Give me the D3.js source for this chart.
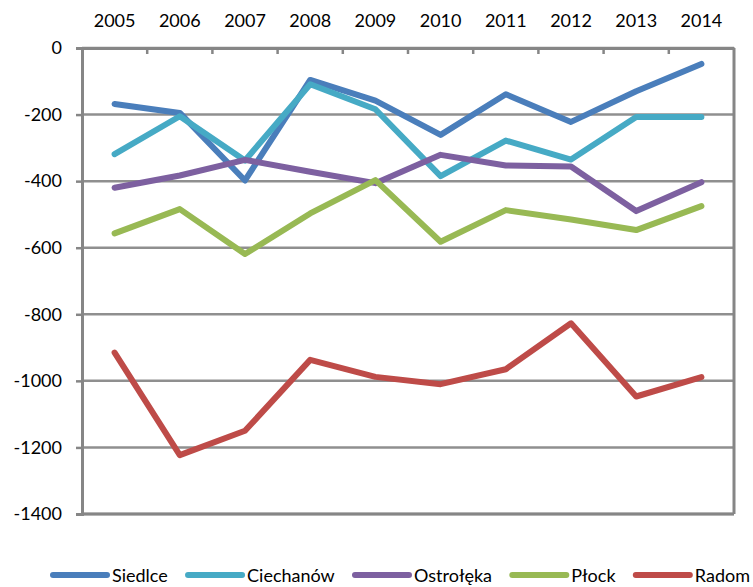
<!DOCTYPE html>
<html>
<head>
<meta charset="utf-8">
<script src="https://cdn.jsdelivr.net/npm/d3@7"></script>
<style>
  html, body { margin: 0; padding: 0; background: #fff; }
  svg { display: block; }
  text { font-family: Lato, "Liberation Sans", sans-serif; fill: #000; }
</style>
</head>
<body>
<svg id="chart" width="753" height="587"></svg>
<script>
// Years along the top axis
const years = ["2005", "2006", "2007", "2008", "2009", "2010", "2011", "2012", "2013", "2014"];

// Series names and their yearly values
const seriesNames = ["Siedlce", "Ciechanów", "Ostrołęka", "Płock", "Radom"];
const siedlce   = [-168, -195, -398, -96, -158, -261, -139, -222, -130, -48];
const ciechanow = [-319, -205, -338, -109, -184, -385, -278, -335, -207, -207];
const ostroleka = [-420, -383, -336, -372, -406, -321, -353, -356, -490, -403];
const plock     = [-557, -484, -619, -497, -397, -582, -487, -515, -547, -475];
const radom     = [-915, -1223, -1150, -937, -988, -1010, -965, -827, -1047, -989];
const seriesValues = [siedlce, ciechanow, ostroleka, plock, radom];
const seriesColors = ["#4a7ebb", "#46aac5", "#7d60a0", "#98b954", "#be4b48"];

// Value axis ticks
const yTicks = [0, -200, -400, -600, -800, -1000, -1200, -1400];

const svg = d3.select("#chart");
const margin = { left: 82, right: 19, top: 48, bottom: 73 };
const W = 753, H = 587;
const axisColor = "#868686";

const x = d3.scaleBand().domain(years).range([margin.left, W - margin.right]);
const y = d3.scaleLinear().domain([0, -1400]).range([margin.top, H - margin.bottom]);

// Horizontal gridlines
svg.append("g")
  .selectAll("line")
  .data(yTicks)
  .join("line")
  .attr("x1", margin.left).attr("x2", W - margin.right)
  .attr("y1", d => y(d)).attr("y2", d => y(d))
  .attr("stroke", "#8f8f8f").attr("stroke-width", 2.5);

// Right border of plot area
svg.append("line")
  .attr("x1", W - margin.right).attr("x2", W - margin.right)
  .attr("y1", y(0)).attr("y2", y(-1400))
  .attr("stroke", axisColor).attr("stroke-width", 3);

// Bottom border
svg.append("line")
  .attr("x1", margin.left).attr("x2", W - margin.right)
  .attr("y1", y(-1400)).attr("y2", y(-1400))
  .attr("stroke", axisColor).attr("stroke-width", 3);

// Top category axis: labels centred on the bands
const xAxis = svg.append("g")
  .attr("transform", `translate(0,${y(0)})`)
  .call(d3.axisTop(x).tickSize(0).tickPadding(21));
xAxis.select(".domain")
  .attr("stroke", axisColor).attr("stroke-width", 3);
xAxis.selectAll("text")
  .style("font-family", "Lato, sans-serif")
  .style("font-size", "18px")
  .attr("fill", "#000");

// Category boundary tick marks pointing into the plot
svg.append("g")
  .selectAll("line")
  .data(years.slice(1))
  .join("line")
  .attr("x1", d => x(d)).attr("x2", d => x(d))
  .attr("y1", y(0)).attr("y2", y(0) + 6)
  .attr("stroke", axisColor).attr("stroke-width", 2.5);

// Left value axis
const yAxis = svg.append("g")
  .attr("transform", `translate(${margin.left},0)`)
  .call(d3.axisLeft(y).tickValues(yTicks).tickSize(6).tickPadding(14).tickFormat(d3.format("d")));
yAxis.select(".domain").attr("stroke", axisColor).attr("stroke-width", 3);
yAxis.selectAll(".tick line").attr("stroke", axisColor).attr("stroke-width", 2.5);
yAxis.selectAll("text")
  .style("font-family", "Lato, sans-serif")
  .style("font-size", "18px")
  .attr("fill", "#000");
// plain hyphen for negative labels
yAxis.selectAll("text").text(d => String(d));

// Series lines
const line = d3.line()
  .x((d, i) => x(years[i]) + x.bandwidth() / 2)
  .y(d => y(d));

svg.append("g")
  .selectAll("path")
  .data(seriesValues)
  .join("path")
  .attr("d", d => line(d))
  .attr("fill", "none")
  .attr("stroke", (d, i) => seriesColors[i])
  .attr("stroke-width", 6)
  .attr("stroke-linejoin", "round")
  .attr("stroke-linecap", "round");

// Legend along the bottom
const legend = svg.append("g");
const items = legend.selectAll("g")
  .data(seriesNames)
  .join("g");
items.append("line")
  .attr("x1", 0).attr("x2", 54)
  .attr("y1", 0).attr("y2", 0)
  .attr("stroke", (d, i) => seriesColors[i])
  .attr("stroke-width", 6)
  .attr("stroke-linecap", "round");
items.append("text")
  .attr("x", 59)
  .attr("y", 7)
  .style("font-size", "18px")
  .text(d => d);

const widths = [];
items.each(function () {
  widths.push(59 + d3.select(this).select("text").node().getComputedTextLength());
});
const legendLeft = 53, legendRight = 750;
const gap = (legendRight - legendLeft - d3.sum(widths)) / (widths.length - 1);
let cursor = legendLeft;
items.attr("transform", (d, i) => {
  const t = `translate(${cursor},575)`;
  cursor += widths[i] + gap;
  return t;
});
</script>
</body>
</html>
